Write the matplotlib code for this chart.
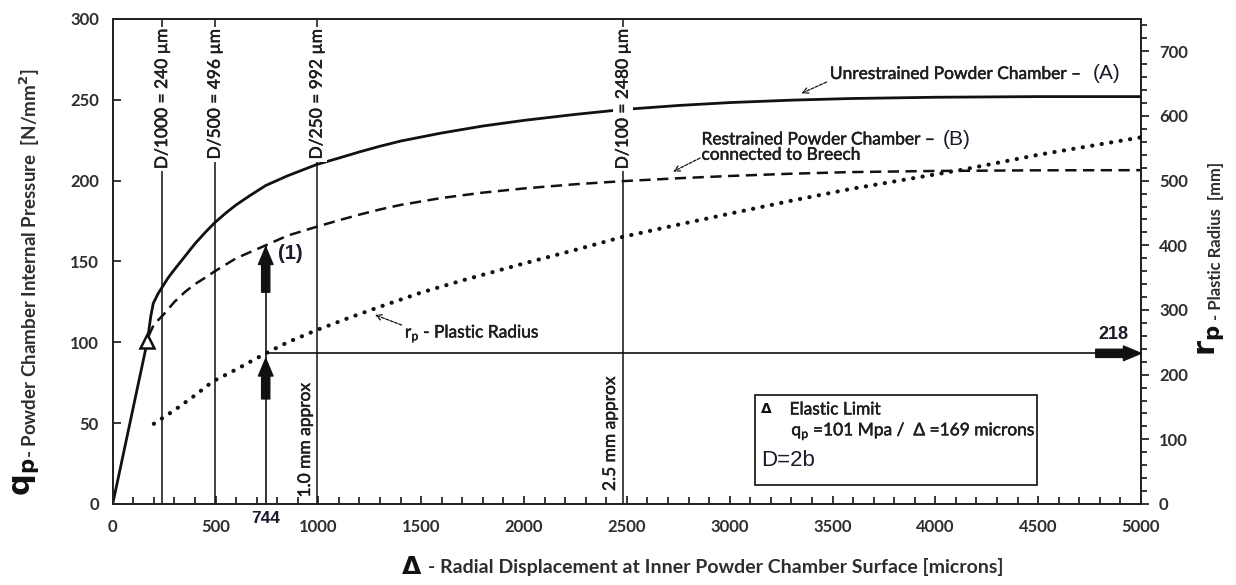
import matplotlib
matplotlib.use('Agg')
import matplotlib.pyplot as plt
import matplotlib.patheffects as pe
from matplotlib.ticker import MultipleLocator
from matplotlib.patches import Rectangle

# ---------------- data ----------------
delta_A = [0, 169, 185, 197, 220, 240, 270, 300, 350, 400, 450, 496, 550, 600, 670, 744, 850, 992,
           1100, 1200, 1300, 1400, 1600, 1800, 2000, 2250, 2480, 2750, 3000, 3300, 3585, 4000,
           4500, 5000]
qp_A = [0, 101, 116, 124, 130, 134, 140, 145, 153, 161, 168, 174, 180, 185, 191, 197, 203, 210,
        214, 217.8, 221.3, 224.5, 229.5, 233.8, 237.3, 241, 244, 246.5, 248.3, 249.8, 250.8,
        251.6, 252, 252]

delta_B = [175, 200, 246, 300, 350, 400, 450, 497, 600, 744, 850, 992, 1100, 1200, 1300, 1400,
           1600, 1800, 2000, 2250, 2480, 2750, 3000, 3300, 3585, 4000, 4500, 5000]
qp_B = [104, 111, 117, 125, 131, 136, 140, 144, 152, 160, 166, 171.5, 175.5, 179, 182.2, 185,
        189.3, 192.6, 195.2, 197.8, 199.7, 201.5, 202.9, 204.3, 205.3, 206, 206.4, 206.5]

delta_rp = [200, 300, 400, 489, 600, 744, 850, 992, 1150, 1299, 1500, 1703, 2000, 2250, 2479,
            2750, 3016, 3300, 3585, 4133, 4500, 5000]
rp = [124, 145, 168, 190, 208, 233, 250, 269, 288, 305, 327, 346, 372, 393, 413, 432, 450,
      469, 487, 517, 540, 567]

elastic_delta = 169
elastic_qp = 101

d_lines = [240, 496, 992, 2480]
d_labels = ['D/1000 = 240 µm', 'D/500 = 496 µm', 'D/250 = 992 µm', 'D/100 = 2480 µm']
mark_delta = 744
mark_qp = 160
mark_rp_label = '218'

x_ticks = [0, 500, 1000, 1500, 2000, 2500, 3000, 3500, 4000, 4500, 5000]
y_ticks = [0, 50, 100, 150, 200, 250, 300]
y2_ticks = [0, 100, 200, 300, 400, 500, 600, 700]

# ---------------- style ----------------
TXT = '#2e2e2e'
INK = '#111111'
ANN = '#1e1e1e'
LATO = ['Lato', 'DejaVu Sans']
ARIAL = ['Liberation Sans', 'DejaVu Sans']
plt.rcParams['font.family'] = LATO
plt.rcParams['mathtext.fontset'] = 'dejavusans'
HEAVY = [pe.withStroke(linewidth=0.35, foreground=ANN)]

fig = plt.figure(figsize=(12.36, 5.85), dpi=100)
ax = fig.add_axes([112.7 / 1236, 81 / 585, (1141 - 112.7) / 1236, (504 - 19) / 585])
ax2 = ax.twinx()

ax.set_xlim(0, 5000)
ax.set_ylim(0, 300)
ax2.set_ylim(0, 750)

# curves
ax.plot(delta_A, qp_A, color=INK, lw=2.0, zorder=3, solid_joinstyle='round')
ax.plot(delta_B, qp_B, color=INK, lw=1.8, ls=(0, (4.5, 2.6)), zorder=3)
ax2.plot(delta_rp, rp, color=INK, lw=3.0, ls=(0, (0.05, 2.25)), dash_capstyle='round', zorder=3)

# elastic limit marker
ax.plot([elastic_delta], [elastic_qp], marker='^', ms=10, mfc='white', mec=INK, mew=1.8, zorder=6,
        clip_on=False)

# vertical reference lines with labels
for xv, lab in zip(d_lines, d_labels):
    ax.plot([xv, xv], [0, 300], color=INK, lw=1.1, zorder=2)
    ax.text(xv, 294, lab, rotation=90, ha='center', va='top', fontsize=12.5, color=ANN,
            zorder=7, bbox=dict(facecolor='white', edgecolor='none', pad=1.5),
            path_effects=HEAVY)

ax.text(935, 4, '1.0 mm approx', rotation=90, ha='center', va='bottom', fontsize=12.5,
        color=ANN, path_effects=HEAVY)
ax.text(2418, 8, '2.5 mm approx', rotation=90, ha='center', va='bottom', fontsize=12.5,
        color=ANN, path_effects=HEAVY)

# marker line at 744
rp_mark = rp[delta_rp.index(mark_delta)]
ax.plot([mark_delta, mark_delta], [0, mark_qp], color=INK, lw=1.2, zorder=2)
ax2.plot([mark_delta, 4800], [rp_mark, rp_mark], color=INK, lw=1.2, zorder=2)

arrow_style = 'simple,head_length=0.9,head_width=0.75,tail_width=0.42'
ax.annotate('', xy=(mark_delta, mark_qp - 1), xytext=(mark_delta, 131),
            arrowprops=dict(arrowstyle=arrow_style, color=INK, mutation_scale=14,
                            shrinkA=0, shrinkB=0), zorder=6)
ax.annotate('', xy=(mark_delta, 90), xytext=(mark_delta, 65),
            arrowprops=dict(arrowstyle=arrow_style, color=INK, mutation_scale=14,
                            shrinkA=0, shrinkB=0), zorder=6)
ax2.annotate('', xy=(5000, rp_mark), xytext=(4780, rp_mark),
             arrowprops=dict(arrowstyle=arrow_style, color=INK, mutation_scale=14,
                             shrinkA=0, shrinkB=0), zorder=6, annotation_clip=False)

ax.text(863, 155, '(1)', fontsize=14.5, fontweight='bold', family=ARIAL, color='#1a1a2a',
        ha='center', va='center')
ax.text(mark_delta, -8.7, '744', fontsize=12.5, fontweight='bold', family=ARIAL, color='#1a1a2a',
        ha='center', va='center', clip_on=False)
ax2.text(4866, 262, mark_rp_label, fontsize=13, fontweight='bold', family=ARIAL, color='#1a1a2a',
         ha='center', va='center')

# curve annotations
dash_arrow = dict(arrowstyle='->', lw=0.9, color=INK, linestyle=(0, (2.5, 1.2)),
                  shrinkA=0, shrinkB=0)
ax.text(3487, 266, 'Unrestrained Powder Chamber \u2013', fontsize=12.5,
        color=ANN, ha='left', va='center', path_effects=HEAVY)
ax.text(4766, 266, '(A)', fontsize=15, family=ARIAL, color='#1a1a2a', ha='left', va='center')
ax.annotate('', xy=(3349, 254), xytext=(3471, 261), arrowprops=dash_arrow)

ax.text(2863, 225.5, 'Restrained Powder Chamber \u2013', fontsize=12.5,
        color=ANN, ha='left', va='center', path_effects=HEAVY)
ax.text(4037, 225.5, '(B)', fontsize=15, family=ARIAL, color='#1a1a2a', ha='left', va='center')
ax.text(2863, 216, 'connected to Breech', fontsize=12.5, color=ANN,
        ha='left', va='center', path_effects=HEAVY)
ax.annotate('', xy=(2725, 205.6), xytext=(2856, 214), arrowprops=dash_arrow)

ax.text(1421, 105.5, r'$\mathregular{r_p}$ - Plastic Radius', fontsize=12.5,
        color=ANN, ha='left', va='center', path_effects=HEAVY)
ax.annotate('', xy=(1275, 117), xytext=(1405, 110.7), arrowprops=dash_arrow)

# info box
ax.add_patch(Rectangle((3121, 12), 1373, 55.4, facecolor='white', edgecolor='#222222', lw=1.3,
                       zorder=5))
ax.text(3180, 58.5, '\u0394', fontsize=10, fontweight='bold', family=['DejaVu Sans'],
        color=INK, ha='center', va='center', zorder=6)
ax.text(3291, 58.5, 'Elastic Limit', fontsize=12.5, color=ANN, ha='left',
        va='center', zorder=6, path_effects=HEAVY)
ax.text(3300, 45, r'$\mathregular{q_p}$ =101 Mpa /  ' + '\u0394 =169 microns',
        fontsize=12.5, color=ANN, ha='left', va='center', zorder=6, path_effects=HEAVY)
ax.text(3151, 27, 'D=2b', fontsize=16, family=ARIAL, color='#1a1a2a', ha='left', va='center',
        zorder=6)

# axes / ticks
ax.set_xticks(x_ticks)
ax.set_yticks(y_ticks)
ax2.set_yticks(y2_ticks)
ax.xaxis.set_minor_locator(MultipleLocator(100))
ax2.yaxis.set_minor_locator(MultipleLocator(20))
ax.tick_params(axis='x', which='major', direction='in', length=6, width=1.1, pad=11,
               labelsize=12, labelcolor=TXT, top=False)
ax.tick_params(axis='x', which='minor', direction='in', length=5, width=1.1, top=False)
ax.tick_params(axis='y', which='major', direction='in', length=6, width=1.1, pad=10,
               labelsize=12, labelcolor=TXT, right=False)
ax2.tick_params(axis='y', which='major', direction='out', length=6, width=1.1, pad=7,
                labelsize=12, labelcolor=TXT)
ax2.tick_params(axis='y', which='minor', direction='out', length=4, width=1.1)
for lab in ax.get_xticklabels() + ax.get_yticklabels() + ax2.get_yticklabels():
    lab.set_fontweight('bold')
for a in (ax, ax2):
    for s in a.spines.values():
        s.set_linewidth(1.3)
        s.set_color('#222222')

# axis titles
fig.text(26 / 1236, 1 - 477 / 585, r'$\mathbf{q_p}$', rotation=90, fontsize=22, color=INK,
         ha='center', va='center')
fig.text(30 / 1236, 1 - 458 / 585, '- Powder Chamber Internal Pressure  [N/mm$^{\\mathbf{2}}$]',
         rotation=90, fontsize=13.5, fontweight='bold', color=TXT, ha='center', va='bottom')
fig.text(1211 / 1236, 1 - 340 / 585, r'$\mathbf{r_p}$', rotation=90, fontsize=22, color=INK,
         ha='center', va='center')
fig.text(1216 / 1236, 1 - 320 / 585, '- Plastic Radius  [mm]', rotation=90, fontsize=12,
         fontweight='bold', color=TXT, ha='center', va='bottom')
fig.text(412 / 1236, 1 - 567 / 585, '\u0394', fontsize=18, fontweight='bold',
         family=['DejaVu Sans'], color=INK, ha='center', va='center')
fig.text(428 / 1236, 1 - 567 / 585,
         '- Radial Displacement at Inner Powder Chamber Surface [microns]', fontsize=14,
         fontweight='bold', color=TXT, ha='left', va='center')

fig.savefig('out.png', dpi=100, facecolor='white')
